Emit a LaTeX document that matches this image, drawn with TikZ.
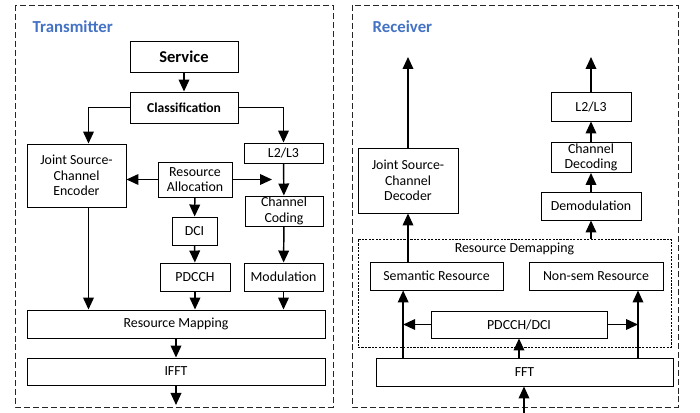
\documentclass[tikz,border=0pt]{standalone}
\usepackage{fontspec}
\setmainfont{Carlito}
\usetikzlibrary{arrows.meta,positioning}

\definecolor{titleblue}{HTML}{4472C4}

\begin{document}
\begin{tikzpicture}[x=0.75pt, y=-0.75pt,
    box/.style={draw, rectangle, line width=0.7pt, align=center, inner sep=1pt, font=\fontsize{10.4}{11.5}\selectfont},
    sz/.style 2 args={minimum width=#1*0.75pt, minimum height=#2*0.75pt},
    arr/.style={-{Triangle[length=9pt, width=8pt]}, line width=1.1pt},
    frame/.style={draw=black!85, line width=0.65pt, dash pattern=on 4.5pt off 2.2pt},
    title/.style={anchor=west, text=titleblue, font=\fontsize{12.6}{14}\selectfont\bfseries}]
  \useasboundingbox (0,0) rectangle (700,413);

  % transmitter
  \draw[frame] (15,5) rectangle (333,407);
  \node[title] (txtitle) at (28,27) {Transmitter};
  \node[box, sz={108}{31}, font=\fontsize{12.4}{14}\selectfont\bfseries] (service) at (184,56.5) {Service};
  \node[box, sz={108}{31}, font=\fontsize{10.2}{12}\selectfont\bfseries] (classif) at (184,107.5) {Classification};
  \node[box, sz={99}{63}] (enc) at (76.5,175.5) {Joint Source-\\Channel\\Encoder};
  \node[box, sz={74}{35}] (ralloc) at (195,179.5) {Resource\\Allocation};
  \node[box, sz={79}{20}] (txl2) at (283.5,153) {L2/L3};
  \node[box, sz={78}{28}] (ccod) at (284,211) {Channel\\Coding};
  \node[box, sz={45}{28}] (dci) at (194.5,231) {DCI};
  \node[box, sz={70}{28}] (pdcch) at (195,277) {PDCCH};
  \node[box, sz={79}{28}] (modu) at (283.5,277) {Modulation};
  \node[box, sz={298}{28}] (rmap) at (176,324) {Resource Mapping};
  \node[box, sz={298}{27}] (ifft) at (176,371.5) {IFFT};
  \coordinate (encin) at ([xshift=9pt]enc.north);
  \coordinate (raout) at (272,179.5);
  \coordinate (txout) at (176,405);

  \draw[arr] (service) -- (classif);
  \draw[arr] (classif.west) -| (encin);
  \draw[arr] (classif.east) -| (txl2.north);
  \draw[arr] (txl2) -- (ccod);
  \draw[arr] (ccod) -- (modu);
  \draw[arr] (ralloc.west) -- (ralloc.west -| enc.east);
  \draw[arr] (ralloc.east) -- (raout);
  \draw[arr] (ralloc) -- (dci);
  \draw[arr] (dci) -- (pdcch);
  \draw[arr] (encin |- enc.south) -- (encin |- rmap.north);
  \draw[arr] (pdcch.south) -- (pdcch.south |- rmap.north);
  \draw[arr] (modu.south) -- (modu.south |- rmap.north);
  \draw[arr] (rmap) -- (ifft);
  \draw[arr] (ifft.south) -- (txout);

  % receiver
  \draw[frame] (352,5) rectangle (678,407);
  \node[title] (rxtitle) at (368,27) {Receiver};
  \node[box, sz={100}{65}] (dec) at (408,180.5) {Joint Source-\\Channel\\Decoder};
  \node[box, sz={80}{29}] (rxl2) at (591,106.5) {L2/L3};
  \node[box, sz={80}{29}] (cdec) at (591,157.5) {Channel\\Decoding};
  \node[box, sz={100}{28}] (demod) at (591,206) {Demodulation};
  \node[draw, line width=0.6pt, dash pattern=on 1.6pt off 1pt, sz={313}{108},
        label={[anchor=north, inner sep=3pt, font=\fontsize{10.4}{11.5}\selectfont]north:Resource Demapping}] (demap) at (514.5,293) {};
  \node[box, sz={133}{28}] (sem) at (436.5,276) {Semantic Resource};
  \node[box, sz={134}{28}] (nonsem) at (596,276) {Non-sem Resource};
  \node[box, sz={176}{27}] (pdci) at (519,324.5) {PDCCH/DCI};
  \node[box, sz={297}{28}] (fft) at (524.5,372) {FFT};
  \coordinate (semin) at ([xshift=-25pt]sem.south);
  \coordinate (nsin) at ([xshift=31.5pt]nonsem.south);
  \coordinate (rxin) at (524,413);
  \coordinate (decout) at (408,57);
  \coordinate (rxout) at (591,57);

  \draw[arr] (rxin) -- (rxin |- fft.south);
  \draw[arr] (pdci.south |- fft.north) -- (pdci.south);
  \draw[arr] (semin |- fft.north) -- (semin);
  \draw[arr] (nsin |- fft.north) -- (nsin);
  \draw[arr] (pdci.west) -- (pdci.west -| semin);
  \draw[arr] (pdci.east) -- (pdci.east -| nsin);
  \draw[arr] (dec.south |- sem.north) -- (dec.south);
  \draw[arr] (demod.south |- demap.north) -- (demod.south);
  \draw[arr] (demod) -- (cdec);
  \draw[arr] (cdec) -- (rxl2);
  \draw[arr] (rxl2) -- (rxout);
  \draw[arr] (dec.north) -- (decout);
\end{tikzpicture}
\end{document}
